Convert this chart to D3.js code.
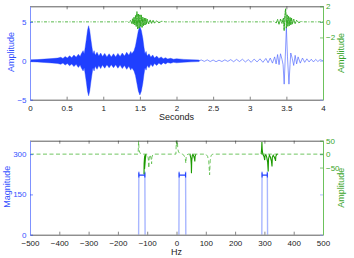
<!DOCTYPE html>
<html>
<head>
<meta charset="utf-8">
<script src="https://cdnjs.cloudflare.com/ajax/libs/d3/7.8.5/d3.min.js"></script>
<style>
body { margin: 0; background: #fff; }
svg { display: block; }
text { font-family: "Liberation Sans", Arial, sans-serif; }
</style>
</head>
<body>
<script>
// ---- data ----
// top: envelope of the dense blue signal [seconds, amplitude]
let blueEnv = [
    [0.00, 0.12], [0.10, 0.15], [0.20, 0.22], [0.30, 0.28], [0.38, 0.35], [0.42, 0.45],
    [0.45, 0.30], [0.48, 0.55], [0.51, 0.35], [0.54, 0.65], [0.57, 0.40], [0.60, 0.75],
    [0.63, 0.45], [0.66, 0.85], [0.685, 0.55], [0.70, 0.9], [0.725, 1.3], [0.74, 0.9],
    [0.755, 1.8], [0.77, 2.8], [0.785, 3.9], [0.80, 4.5], [0.815, 3.9], [0.83, 2.8],
    [0.845, 1.8], [0.86, 0.9], [0.875, 1.3], [0.89, 0.7], [0.915, 1.1], [0.94, 0.6],
    [0.965, 1.0], [0.99, 0.55], [1.02, 0.95], [1.05, 0.5], [1.08, 0.9], [1.11, 0.5],
    [1.14, 0.9], [1.17, 0.5], [1.20, 0.95], [1.23, 0.55], [1.26, 1.0], [1.29, 0.6],
    [1.32, 1.1], [1.35, 0.7], [1.375, 1.2], [1.39, 0.9], [1.42, 1.3], [1.44, 1.9],
    [1.46, 2.9], [1.48, 3.9], [1.50, 4.4], [1.52, 3.9], [1.54, 2.9], [1.555, 1.8],
    [1.57, 0.9], [1.585, 1.2], [1.60, 0.6], [1.625, 0.9], [1.65, 0.45], [1.675, 0.75],
    [1.70, 0.35], [1.73, 0.6], [1.76, 0.3], [1.79, 0.5], [1.82, 0.25], [1.85, 0.4],
    [1.88, 0.22], [1.92, 0.32], [1.96, 0.2], [2.00, 0.26], [2.10, 0.18], [2.20, 0.14],
    [2.31, 0.1]
];
// top: blue signal after the packets [seconds, amplitude]
let blueTail = [
    [2.30, 0], [2.34, 0.1], [2.38, -0.08], [2.42, 0.12], [2.46, -0.1], [2.50, 0.1],
    [2.54, -0.12], [2.58, 0.08], [2.62, -0.1], [2.66, 0.12], [2.70, -0.08], [2.74, 0.15],
    [2.78, -0.12], [2.82, 0.18], [2.86, -0.1], [2.90, 0.2], [2.94, -0.15], [2.98, 0.15],
    [3.02, -0.2], [3.06, 0.22], [3.10, -0.15], [3.14, 0.25], [3.18, -0.2], [3.22, 0.3],
    [3.25, -0.25], [3.28, 0.35], [3.31, -0.3], [3.34, 0.5], [3.36, -0.4], [3.38, 0.8],
    [3.40, -0.5], [3.42, 0.9], [3.44, 0.2], [3.455, -0.5], [3.47, -3.0], [3.485, 0.5],
    [3.50, 4.3], [3.515, 0.5], [3.535, -3.0], [3.55, -0.5], [3.56, 1.0], [3.58, 0.3],
    [3.60, -0.6], [3.62, 0.7], [3.64, -0.4], [3.66, 0.5], [3.69, -0.3], [3.72, 0.35],
    [3.75, -0.2], [3.78, 0.25], [3.81, -0.15], [3.84, 0.2], [3.87, -0.15], [3.90, 0.18],
    [3.93, -0.1], [3.96, 0.15], [4.00, 0]
];
// top: green signal [seconds, amplitude]
let greenSig = [
    [0, 0], [1.30, 0], [1.33, 0.1], [1.35, -0.1], [1.37, 0.2], [1.39, -0.2], [1.40, 0.4],
    [1.41, -0.3], [1.42, 0.6], [1.43, -0.4], [1.44, 0.8], [1.45, -0.6], [1.46, 1.3],
    [1.47, -0.9], [1.48, 1.0], [1.49, -0.8], [1.50, 0.9], [1.51, -0.6], [1.52, 0.9],
    [1.53, -0.7], [1.54, 0.6], [1.55, -0.5], [1.56, 0.5], [1.57, -0.4], [1.58, 0.45],
    [1.59, -0.3], [1.60, 0.35], [1.62, -0.25], [1.64, 0.25], [1.66, -0.2], [1.68, 0.2],
    [1.70, -0.15], [1.73, 0.12], [1.76, -0.1], [1.80, 0.08], [1.85, 0],
    [3.30, 0], [3.33, 0.1], [3.36, -0.15], [3.38, 0.3], [3.40, -0.3], [3.42, 0.35],
    [3.44, -0.2], [3.46, 0.5], [3.47, -1.1], [3.48, 0.9], [3.49, 1.7], [3.50, -0.8],
    [3.51, 0.9], [3.52, -0.6], [3.53, 0.7], [3.54, -0.5], [3.55, 0.6], [3.56, -0.4],
    [3.57, 0.5], [3.58, -0.3], [3.60, 0.35], [3.62, -0.2], [3.64, 0.2], [3.67, -0.1],
    [3.70, 0.05], [3.74, 0], [4.0, 0]
];
let greenBursts = [[1.36, 1.82], [3.35, 3.72]];

// bottom: magnitude bands [Hz]
let bandLo = [-128.5, 9, 292];
let bandHi = [-108, 31, 310];
let bandPeak = 235;
let bandBar = 222;
// bottom: green phase, dashed [Hz, amplitude]
let phaseDash = [
    [-500, 0], [-131, 0], [-129, 60], [-128.5, 30], [-127, 12], [-124, 3], [-120, 0],
    [-100, 0], [-97, -12], [-95, -30], [-94.5, -52], [-93.5, -18], [-91, -3], [-89, -6],
    [-86, -20], [-85, -36], [-84, -12], [-81, -2], [-78, 0], [-2, 0], [-0.5, 60],
    [0.5, 30], [3, 60], [4, 22], [7, 8], [12, 2], [20, 0], [26, -5], [30, -18], [32, -34],
    [33, -10], [36, -2], [40, 0], [100, 0], [106, -8], [110, -25], [113, -77], [115, -25],
    [118, -5], [124, 0], [500, 0]
];
// bottom: green phase, solid pieces (null splits)
let phaseSolid = [
    [-106, -1], [-108, -12], [-110, -40], [-111, -75], [-110.5, -35], [-109, -10], [-107, -4], null,
    [-104, -1], [-106, -15], [-109, -55], null,
    [46, -1], [49, -15], [50.5, -40], [51, -71], [52, -25], [54, -5], [56, -1], [59, -8],
    [61.5, -18], [62.5, -27], [63.5, -8], [66, -1], null,
    [289, 0], [290.5, 20], [291.5, 45], [292.5, 18], [294, 4], [296, -3], [299, -10], [301, -22],
    [302, -6], [305, -2], [308, -12], [311, -30], [313, -65], [314, -18], [317, -4], [320, -10],
    [324, -26], [326, -46], [327, -12], [330, -4], [334, -12], [337, -20], [338, -25], [339, -8],
    [342, -1], [345, 0]
];

// ticks
let topXTicks = [0, 0.5, 1, 1.5, 2, 2.5, 3, 3.5, 4];
let topLTicks = [-5, 0, 5];
let topRTicks = [-2, 0, 2];
let botXTicks = [-500, -400, -300, -200, -100, 0, 100, 200, 300, 400, 500];
let botLTicks = [0, 150, 300];
let botRTicks = [-50, 0, 50];

// ---- layout ----
let width = 354, height = 258;
let svg = d3.select("body").append("svg").attr("width", width).attr("height", height);

let blue = "#1f3fff", lightBlue = "#a8b6ff", green = "#2fa81e", darkGreen = "#1c9a00";
let blueTxt = "#3552ff", greenTxt = "#3aa52a";
let fmt = d => (d < 0 ? "\u2212" + Math.abs(d) : "" + d);

let left = 30, right = 323;

function panel(top, bottom, xDom, lDom, rDom, xt, lt, rt, xLabel, lLabel, rLabel, lLabelX, id) {
    let x = d3.scaleLinear().domain(xDom).range([left, right]);
    let yl = d3.scaleLinear().domain(lDom).range([bottom, top]);
    let yr = d3.scaleLinear().domain(rDom).range([bottom, top]);

    svg.append("clipPath").attr("id", id)
        .append("rect").attr("x", left).attr("y", top)
        .attr("width", right - left).attr("height", bottom - top);
    let plot = svg.append("g").attr("clip-path", `url(#${id})`);

    // axes
    let gx = svg.append("g").attr("transform", `translate(0,${bottom})`)
        .call(d3.axisBottom(x).tickValues(xt).tickFormat(fmt).tickSize(-3).tickPadding(5.5).tickSizeOuter(0));
    let gxt = svg.append("g").attr("transform", `translate(0,${top})`)
        .call(d3.axisTop(x).tickValues(xt).tickFormat("").tickSize(-3).tickSizeOuter(0));
    let gl = svg.append("g").attr("transform", `translate(${left},0)`)
        .call(d3.axisLeft(yl).tickValues(lt).tickFormat(fmt).tickSize(-3).tickPadding(3.5).tickSizeOuter(0));
    let glm = svg.append("g").attr("transform", `translate(${right},0)`)
        .call(d3.axisRight(yl).tickValues(lt).tickFormat("").tickSize(-3).tickSizeOuter(0));
    let gr = svg.append("g").attr("transform", `translate(${right},0)`)
        .call(d3.axisRight(yr).tickValues(rt).tickFormat(fmt).tickSize(-3).tickPadding(3).tickSizeOuter(0));

    [gx, gxt].forEach(g => {
        g.select(".domain").attr("stroke", "#333").attr("stroke-width", 0.8);
        g.selectAll("line").attr("stroke", "#333").attr("stroke-width", 0.6);
        g.selectAll("text").attr("fill", "#222").style("font-size", "8px");
    });
    gl.select(".domain").attr("stroke", "#7f92ff").attr("stroke-width", 1);
    gl.selectAll("line").attr("stroke", blue).attr("stroke-width", 0.6);
    gl.selectAll("text").attr("fill", blueTxt).style("font-size", "8px");
    glm.select(".domain").remove();
    glm.selectAll("line").attr("stroke", "#7f92ff").attr("stroke-width", 0.6);
    gr.select(".domain").attr("stroke", "#6cc25c").attr("stroke-width", 1);
    gr.selectAll("line").attr("stroke", green).attr("stroke-width", 0.6);
    gr.selectAll("text").attr("fill", greenTxt).style("font-size", "8px");

    // labels
    svg.append("text").attr("x", (left + right) / 2).attr("y", bottom + 20.5)
        .attr("text-anchor", "middle").style("font-size", "9px").attr("fill", "#222").text(xLabel);
    svg.append("text").attr("transform", `translate(${lLabelX},${(top + bottom) / 2 - 1}) rotate(-90)`)
        .attr("text-anchor", "middle").style("font-size", "9px").attr("fill", blueTxt).text(lLabel);
    svg.append("text").attr("transform", `translate(${right + 21},${(top + bottom) / 2}) rotate(-90)`)
        .attr("text-anchor", "middle").style("font-size", "9px").attr("fill", greenTxt).text(rLabel);

    return { x, yl, yr, plot };
}

// ---- top panel ----
let p1 = panel(6.3, 99.7, [0, 4], [-5, 7], [-10, 2], topXTicks, topLTicks, topRTicks,
    "Seconds", "Amplitude", "Amplitude", 14, "clipTop");

p1.plot.append("path").datum(blueEnv)
    .attr("fill", blue).attr("stroke", blue).attr("stroke-width", 0.4)
    .attr("d", d3.area().x(d => p1.x(d[0])).y0(d => p1.yl(-d[1])).y1(d => p1.yl(d[1])));

p1.plot.append("path").datum(blueTail)
    .attr("fill", "none").attr("stroke", "#4862ff").attr("stroke-width", 0.65)
    .attr("d", d3.line().x(d => p1.x(d[0])).y(d => p1.yl(d[1])));

// green dash-dot line, bursts solid on top
let inBurst = d => greenBursts.some(b => d[0] >= b[0] && d[0] <= b[1]);
p1.plot.append("path").datum(greenSig)
    .attr("fill", "none").attr("stroke", green).attr("stroke-width", 0.8)
    .attr("stroke-dasharray", "3,1.5,1,1.5")
    .attr("d", d3.line().x(d => p1.x(d[0])).y(d => p1.yr(d[1])));
p1.plot.append("path").datum(greenSig)
    .attr("fill", "none").attr("stroke", green).attr("stroke-width", 0.65)
    .attr("d", d3.line().defined(inBurst).x(d => p1.x(d[0])).y(d => p1.yr(d[1])));

// ---- bottom panel ----
let p2 = panel(140.7, 234.7, [-500, 500], [0, 350], [-300, 50], botXTicks, botLTicks, botRTicks,
    "Hz", "Magnitude", "Amplitude", 10, "clipBot");

let magLine = d3.line().defined(d => d !== null).x(d => p2.x(d[0])).y(d => p2.yl(d[1]));
bandLo.forEach((lo, i) => {
    let hi = bandHi[i];
    // band edges only, the flat top hides under the bar
    p2.plot.append("path")
        .datum([[lo - 0.8, 0], [lo, bandPeak], null, [hi, bandPeak], [hi + 0.8, 0]])
        .attr("fill", "none").attr("stroke", lightBlue).attr("stroke-width", 1.4)
        .attr("d", magLine);
    // dark bar with caps
    let yb = p2.yl(bandBar);
    let g = p2.plot.append("g").attr("stroke", blue).attr("stroke-width", 1.1);
    g.append("line").attr("x1", p2.x(lo)).attr("x2", p2.x(hi)).attr("y1", yb).attr("y2", yb);
    [lo, hi].forEach(f => g.append("line").attr("x1", p2.x(f)).attr("x2", p2.x(f))
        .attr("y1", yb - 2.5).attr("y2", yb + 2.5));
});

let phLine = d3.line().defined(d => d !== null).x(d => p2.x(d[0])).y(d => p2.yr(d[1]));
p2.plot.append("path").datum(phaseDash)
    .attr("fill", "none").attr("stroke", "#4cb83a").attr("stroke-width", 0.8)
    .attr("stroke-dasharray", "4,2.5")
    .attr("d", phLine);
p2.plot.append("path").datum(phaseSolid)
    .attr("fill", "none").attr("stroke", darkGreen).attr("stroke-width", 1.1)
    .attr("d", phLine);
</script>
</body>
</html>
